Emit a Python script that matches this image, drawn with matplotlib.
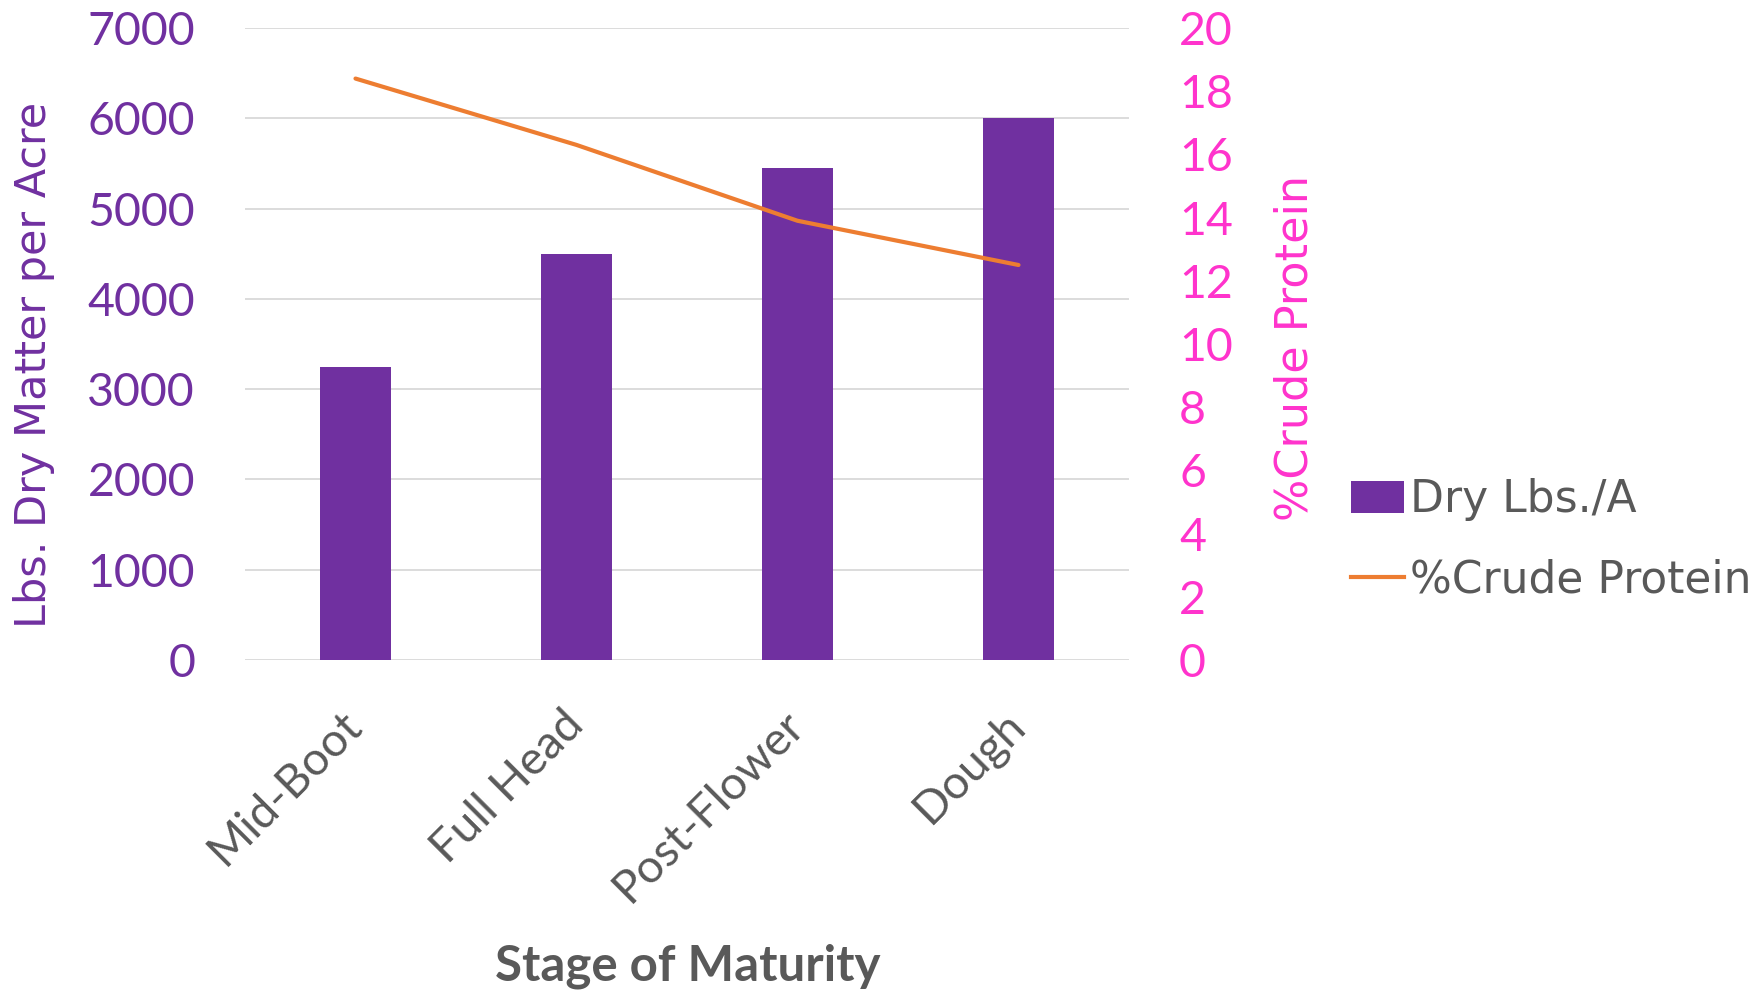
import numpy as np
import matplotlib.pyplot as plt
from matplotlib.patches import Patch
from matplotlib.lines import Line2D

# stages of maturity and measured values
stages = ['Mid-Boot', 'Full Head', 'Post-Flower', 'Dough']
dry_lbs = [3250, 4500, 5450, 6000]
crude_protein = [18.4, 16.3, 13.9, 12.5]

left_ticks = [0, 1000, 2000, 3000, 4000, 5000, 6000, 7000]
right_ticks = [0, 2, 4, 6, 8, 10, 12, 14, 16, 18, 20]

purple = '#7030A0'
orange = '#ED7D31'
pink = '#FF33CC'
gray = '#595959'
grid_gray = '#D9D9D9'

tick_font = 'Lato'
label_font = 'DejaVu Sans'

fig = plt.figure(figsize=(17.61, 9.92), dpi=100)
ax = fig.add_axes([245 / 1761, 1 - 660 / 992, 884 / 1761, 632 / 992])
ax2 = ax.twinx()

x = np.arange(len(stages))
ax.bar(x, dry_lbs, width=0.32, color=purple, zorder=2)
ax2.plot(x, crude_protein, color=orange, lw=3, solid_capstyle='round')

ax.set_xlim(-0.5, len(stages) - 0.5)
ax.set_ylim(0, 7000)
ax2.set_ylim(0, 20)
ax.set_yticks(left_ticks)
ax2.set_yticks(right_ticks)
ax.yaxis.grid(True, color=grid_gray, lw=1.3, zorder=0)
ax.set_axisbelow(True)

for a in (ax, ax2):
    for s in a.spines.values():
        s.set_visible(False)
    a.tick_params(length=0)

ax.tick_params(axis='y', pad=36, labelsize=33.5, labelcolor=purple)
ax2.tick_params(axis='y', pad=36, labelsize=33.5, labelcolor=pink)
for t in ax.get_yticklabels() + ax2.get_yticklabels():
    t.set_fontfamily(tick_font)

ax.set_xticks(x)
ax.set_xticklabels(stages, rotation=45, ha='right', va='center', rotation_mode='anchor',
                   fontsize=33.5, color=gray, fontfamily=tick_font)
ax.tick_params(axis='x', pad=42)

fig.text(688 / 1761, 1 - 966 / 992, 'Stage of Maturity', ha='center', va='center',
         fontsize=35.5, fontweight='bold', color=gray, fontfamily=tick_font)
fig.text(34 / 1761, 1 - 365 / 992, 'Lbs. Dry Matter per Acre', rotation=90,
         ha='center', va='center', fontsize=31, color=purple, fontfamily=label_font)
fig.text(1295 / 1761, 1 - 348 / 992, '%Crude Protein', rotation=90,
         ha='center', va='center', fontsize=32, color=pink, fontfamily=label_font)

handles = [Patch(facecolor=purple, label='Dry Lbs./A'),
           Line2D([], [], color=orange, lw=3, label='%Crude Protein')]
fig.legend(handles=handles, loc='center left', bbox_to_anchor=(1351 / 1761, 1 - 540 / 992),
           frameon=False, prop={'family': label_font, 'size': 31.7}, labelcolor=gray,
           handlelength=1.2, handleheight=0.75, handletextpad=0.15, labelspacing=0.85,
           borderaxespad=0, borderpad=0)

fig.savefig('out.png', dpi=100)
